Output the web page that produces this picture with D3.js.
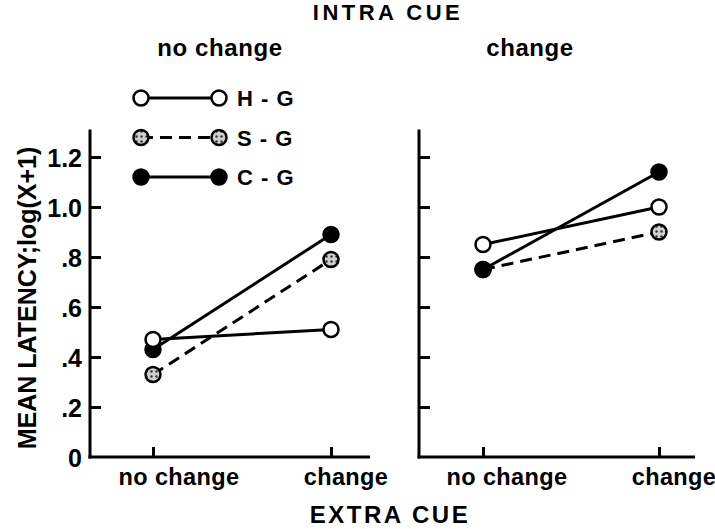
<!DOCTYPE html>
<html>
<head>
<meta charset="utf-8">
<script src="https://cdn.jsdelivr.net/npm/d3@7"></script>
<style>
  body { margin: 0; background: #fff; }
  text { font-family: "Liberation Sans", Arial, sans-serif; font-weight: bold; fill: #000; }
</style>
</head>
<body>
<script>
// categories and values
var extraCue = ["no change", "change"];
var panels = ["no change", "change"];          // INTRA CUE
var groups = ["H - G", "S - G", "C - G"];
var hgValues = [[0.47, 0.51], [0.85, 1.00]];
var sgValues = [[0.33, 0.79], [0.75, 0.90]];
var cgValues = [[0.43, 0.89], [0.75, 1.14]];
var yTicks = [0, 0.2, 0.4, 0.6, 0.8, 1.0, 1.2];
var yTickLabels = ["0", ".2", ".4", ".6", ".8", "1.0", "1.2"];

window.onload = function() {
    var w = 715, h = 529;
    var svg = d3.select("body").append("svg")
        .attr("width", w)
        .attr("height", h);

    // gray speckled fill for S-G markers
    var pat = svg.append("defs").append("pattern")
        .attr("id", "speck")
        .attr("width", 5).attr("height", 5)
        .attr("patternUnits", "userSpaceOnUse");
    pat.append("rect").attr("width", 5).attr("height", 5).attr("fill", "#d0d0d0");
    pat.append("circle").attr("cx", 1.5).attr("cy", 1.5).attr("r", 1.2).attr("fill", "#333");

    var styles = [
        { fill: "#fff", dash: null },
        { fill: "url(#speck)", dash: "12,7" },
        { fill: "#000", dash: null }
    ];
    var series = [hgValues, sgValues, cgValues];

    var y = d3.scaleLinear().domain([0, 1.2]).range([457, 157]);

    // panel layout: axis start, axis end, tick range
    var layout = [
        { x0: 90, x1: 370, range: [153, 331], showLabels: true, shift: [26, 15] },
        { x0: 419, x1: 695, range: [483, 659], showLabels: false, shift: [24, 15] }
    ];

    layout.forEach(function(p, pi) {
        var x = d3.scalePoint().domain(extraCue).range(p.range);
        var g = svg.append("g");

        // axis lines
        g.append("line")
            .attr("x1", p.x0).attr("x2", p.x0)
            .attr("y1", y(1.31)).attr("y2", y(0) + 1.5)
            .attr("stroke", "#000").attr("stroke-width", 3);
        g.append("line")
            .attr("x1", p.x0 - 1.5).attr("x2", p.x1)
            .attr("y1", y(0)).attr("y2", y(0))
            .attr("stroke", "#000").attr("stroke-width", 3);

        // y ticks point inward
        var yAxis = d3.axisLeft(y)
            .tickValues(yTicks)
            .tickSizeInner(-11)
            .tickSizeOuter(0)
            .tickPadding(8)
            .tickFormat(function(d, i) { return p.showLabels ? yTickLabels[i] : ""; });
        var ya = g.append("g").attr("transform", "translate(" + p.x0 + ",0)").call(yAxis);
        ya.select(".domain").remove();
        ya.selectAll("line").attr("stroke", "#000").attr("stroke-width", 3);
        ya.selectAll("text")
            .attr("font-size", 25)
            .attr("font-family", "Liberation Sans, Arial, sans-serif")
            .attr("font-weight", "bold")
            .attr("fill", "#000")
            .attr("dy", "0.36em");
        ya.selectAll(".tick").filter(function(d) { return d === 0; })
            .select("line").remove();

        // x ticks point up
        var xAxis = d3.axisBottom(x).tickSizeInner(-10).tickSizeOuter(0).tickFormat("");
        var xa = g.append("g").attr("transform", "translate(0," + y(0) + ")").call(xAxis);
        xa.select(".domain").remove();
        xa.selectAll("line").attr("stroke", "#000").attr("stroke-width", 3);

        // x category labels (sit a bit right of the ticks)
        g.selectAll(".xlab").data(extraCue).enter().append("text")
            .attr("class", "xlab")
            .attr("x", function(d, i) { return x(d) + p.shift[i]; })
            .attr("y", 485)
            .attr("text-anchor", "middle")
            .attr("font-size", 23.5)
            .attr("letter-spacing", "0.4px")
            .text(function(d) { return d; });

        // panel header
        g.append("text")
            .attr("x", pi === 0 ? 220 : 530)
            .attr("y", 56)
            .attr("text-anchor", "middle")
            .attr("font-size", 24)
            .attr("letter-spacing", "0.6px")
            .text(panels[pi]);

        // lines then markers, S-G drawn first so others sit on top
        [1, 0, 2].forEach(function(si) {
            var vals = series[si][pi];
            var line = d3.line()
                .x(function(d, i) { return x(extraCue[i]); })
                .y(function(d) { return y(d); });
            g.append("path")
                .datum(vals)
                .attr("d", line)
                .attr("fill", "none")
                .attr("stroke", "#000")
                .attr("stroke-width", 3)
                .attr("stroke-dasharray", styles[si].dash);
        });
        [1, 2, 0].forEach(function(si) {
            var vals = series[si][pi];
            g.selectAll(".m" + si).data(vals).enter().append("circle")
                .attr("class", "m" + si)
                .attr("cx", function(d, i) { return x(extraCue[i]); })
                .attr("cy", function(d) { return y(d); })
                .attr("r", 7.5)
                .attr("fill", styles[si].fill)
                .attr("stroke", "#000")
                .attr("stroke-width", 2.5);
        });
    });

    // legend
    var leg = svg.append("g");
    var legY = d3.scalePoint().domain(groups).range([98, 177]);
    groups.forEach(function(gName, si) {
        var yy = legY(gName);
        leg.append("line")
            .attr("x1", 141).attr("x2", 219)
            .attr("y1", yy).attr("y2", yy)
            .attr("stroke", "#000").attr("stroke-width", 3)
            .attr("stroke-dasharray", styles[si].dash);
        [141, 219].forEach(function(cx) {
            leg.append("circle")
                .attr("cx", cx).attr("cy", yy).attr("r", 7.5)
                .attr("fill", styles[si].fill)
                .attr("stroke", "#000").attr("stroke-width", 2.5);
        });
        leg.append("text")
            .attr("x", 237).attr("y", yy + 8)
            .attr("font-size", 22)
            .attr("letter-spacing", "1px")
            .text(gName);
    });

    // titles
    svg.append("text")
        .attr("x", 388).attr("y", 20)
        .attr("text-anchor", "middle")
        .attr("font-size", 22)
        .attr("letter-spacing", "3.5px")
        .text("INTRA  CUE");
    svg.append("text")
        .attr("x", 390).attr("y", 523)
        .attr("text-anchor", "middle")
        .attr("font-size", 24)
        .attr("letter-spacing", "2.5px")
        .text("EXTRA  CUE");
    svg.append("text")
        .attr("transform", "translate(36,298) rotate(-90)")
        .attr("text-anchor", "middle")
        .attr("font-size", 25)
        .text("MEAN LATENCY;log(X+1)");
};
</script>
</body>
</html>
